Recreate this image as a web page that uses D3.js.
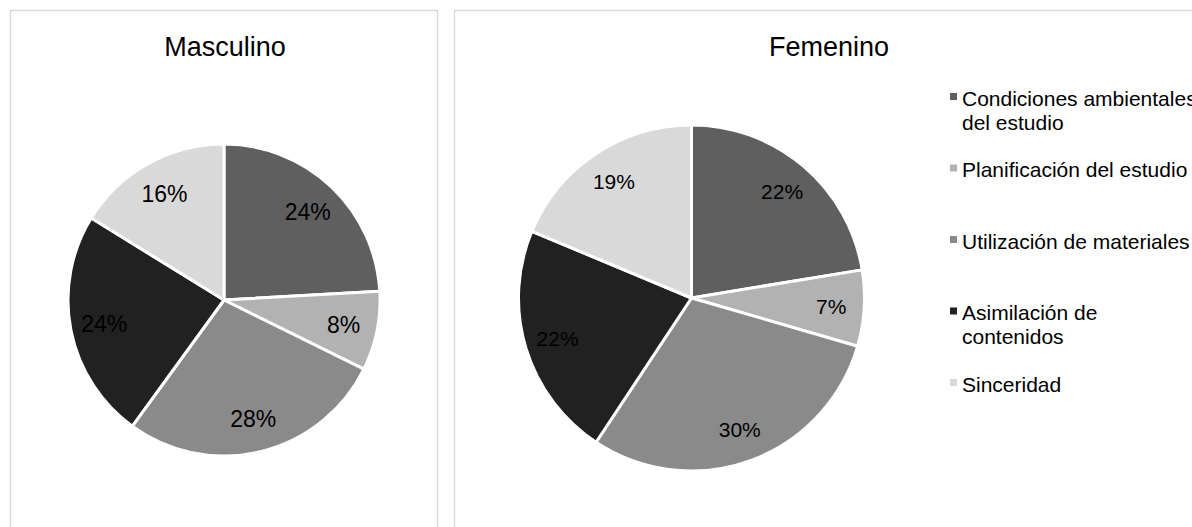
<!DOCTYPE html>
<html>
<head>
<meta charset="utf-8">
<script src="https://d3js.org/d3.v7.min.js"></script>
<style>
  body { margin: 0; background: #fff; }
  svg { display: block; font-family: Arial, "Liberation Sans", sans-serif; }
</style>
</head>
<body>
<svg id="chart"></svg>
<script>
  // Categories (legend order = slice order, clockwise from 12 o'clock)
  const categories = [
    "Condiciones ambientales del estudio",
    "Planificación del estudio",
    "Utilización de materiales",
    "Asimilación de contenidos",
    "Sinceridad"
  ];
  // legend lines as wrapped in the original
  const legendLines = [
    ["Condiciones ambientales", "del estudio"],
    ["Planificación del estudio"],
    ["Utilización de materiales"],
    ["Asimilación de", "contenidos"],
    ["Sinceridad"]
  ];
  const colors = ["#5f5f5f", "#b2b2b2", "#8a8a8a", "#212121", "#d9d9d9"];

  // percentages
  const masculino = [24.1, 8.2, 27.7, 23.8, 16.2];
  const femenino = [22.4, 7.1, 29.8, 22.0, 18.7];

  const W = 1192, H = 527;
  const svg = d3.select("#chart").attr("width", W).attr("height", H);

  // panel borders
  svg.append("rect")
    .attr("x", 10.5).attr("y", 10.5)
    .attr("width", 427).attr("height", 540)
    .attr("fill", "none").attr("stroke", "#d9d9d9").attr("stroke-width", 1.5);
  svg.append("rect")
    .attr("x", 454.5).attr("y", 10.5)
    .attr("width", 760).attr("height", 540)
    .attr("fill", "none").attr("stroke", "#d9d9d9").attr("stroke-width", 1.5);

  const pie = d3.pie().value(d => d).sort(null);

  function drawPie(values, title, titleX, cx, cy, r, labelR, fontSize) {
    svg.append("text")
      .attr("x", titleX).attr("y", 56)
      .attr("text-anchor", "middle")
      .attr("font-size", 27)
      .attr("fill", "#000")
      .text(title);

    const g = svg.append("g").attr("transform", `translate(${cx},${cy})`);
    const arc = d3.arc().innerRadius(0).outerRadius(r);
    const labelArc = d3.arc().innerRadius(labelR).outerRadius(labelR);
    const arcs = pie(values);

    g.selectAll("path")
      .data(arcs)
      .enter()
      .append("path")
      .attr("d", arc)
      .attr("fill", (d, i) => colors[i])
      .attr("stroke", "#fff")
      .attr("stroke-width", 3)
      .attr("stroke-linejoin", "round");

    g.selectAll("text.lbl")
      .data(arcs)
      .enter()
      .append("text")
      .attr("class", "lbl")
      .attr("transform", d => `translate(${labelArc.centroid(d)})`)
      .attr("text-anchor", "middle")
      .attr("dy", "0.36em")
      .attr("font-size", fontSize)
      .attr("fill", "#000")
      .text(d => Math.round(d.data) + "%");
  }

  drawPie(masculino, "Masculino", 225, 224, 300, 156, 122, 23);
  drawPie(femenino, "Femenino", 829, 691.5, 298, 173, 140, 21);

  // legend
  const legend = svg.append("g");
  legendLines.forEach((lines, i) => {
    const y = 98 + i * 71.5;
    legend.append("rect")
      .attr("x", 950).attr("y", y - 5)
      .attr("width", 7).attr("height", 7)
      .attr("fill", colors[i]);
    const t = legend.append("text")
      .attr("x", 962).attr("y", y)
      .attr("font-size", 21)
      .attr("fill", "#000");
    lines.forEach((ln, j) => {
      t.append("tspan")
        .attr("x", 962)
        .attr("dy", j === 0 ? "0.36em" : 24)
        .text(ln);
    });
  });
</script>
</body>
</html>
